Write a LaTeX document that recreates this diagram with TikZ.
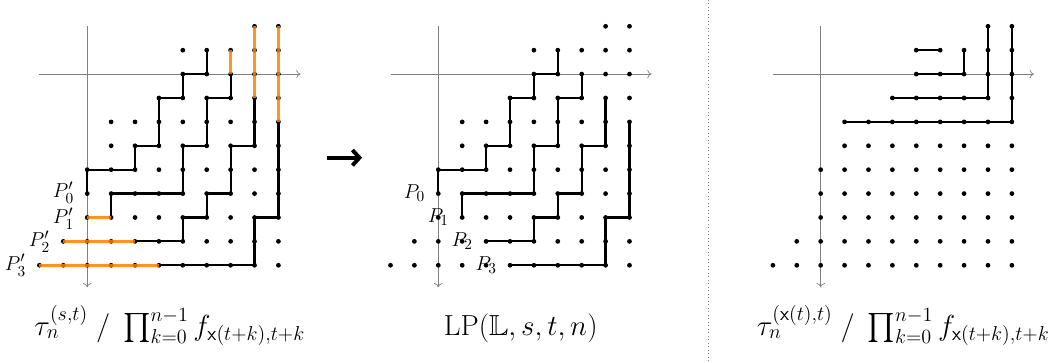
\documentclass[tikz,border=0pt]{standalone}
\usepackage{amsmath,amssymb}
\usepackage{xcolor}
\definecolor{hilite}{HTML}{FF8000}
\usepackage{tikz}
\usetikzlibrary{arrows.meta}

\newcommand{\latticeaxes}{%
  \draw[ax] (-2,0) -- (8.92,0);
  \draw[ax] (0,-2) -- (0,8.92);}
\newcommand{\latticedots}{%
  \foreach \j/\imin in {-2/7,-1/4,0/4,1/3,2/1,3/1,4/0,5/0,6/0,7/-1,8/-2}
    \foreach \i in {\imin,...,8}
      \fill[ldot] (\i,\j) circle (1.7pt);}
\newcommand{\lppaths}{%
  \draw[lp] (0,5) |- (2,4) |- (3,3) |- (4,1) |- (5,0) -- (5,-1);
  \draw[lp] (1,6) |- (4,5) |- (5,3) |- (6,1) -- (6,0);
  \draw[lp] (2,7) -- (4,7) |- (5,6) |- (6,5) |- (7,3) -- (7,1);
  \draw[lp] (3,8) -- (7,8) |- (8,6) -- (8,2);}

\begin{document}
\begin{tikzpicture}[x=0.6cm, y=-0.6cm,
  ax/.style={gray, line width=0.5pt, -{To[length=3pt, width=6pt]}},
  lp/.style={black, line width=1.6pt},
  ext/.style={hilite, line width=2.4pt, opacity=0.85},
  ldot/.style={black},
  lab/.style={font=\fontsize{15}{18}\selectfont, inner sep=0pt},
  captxt/.style={font=\huge, anchor=base},
  divider/.style={gray, dotted, line width=0.5pt},
  bigarr/.style={line width=2.8pt, -{Straight Barb[length=5pt, width=11pt]}}
]
  \useasboundingbox (-3.65,-3.1) rectangle (40.62,12.05);

  \begin{scope}
    \latticeaxes
    \lppaths
    \latticedots
    \draw[ext] (0,6) -- (1,6);
    \draw[ext] (-1,7) -- (2,7);
    \draw[ext] (-2,8) -- (3,8);
    \draw[ext] (6,0) -- (6,-1);
    \draw[ext] (7,1) -- (7,-2);
    \draw[ext] (8,2) -- (8,-2);
    \node[lab] (Q0) at (-1,4.97) {$P'_0$};
    \node[lab] (Q1) at (-1,6.05) {$P'_1$};
    \node[lab] (Q2) at (-2,7) {$P'_2$};
    \node[lab] (Q3) at (-3,8) {$P'_3$};
    \node[captxt] (capA) at (3.45,10.92)
      {$\tau_n^{(s,t)}\;/\;\prod_{k=0}^{n-1} f_{\mathsf{x}(t+k),t+k}$};
  \end{scope}

  \coordinate (stepL) at (10.02,3.5);
  \coordinate (stepR) at (11.5,3.5);
  \draw[bigarr] (stepL) -- (stepR);

  \begin{scope}[shift={(14.69,0)}]
    \latticeaxes
    \lppaths
    \latticedots
    \node[lab] (P0) at (-1,5) {$P_0$};
    \node[lab] (P1) at (0,6) {$P_1$};
    \node[lab] (P2) at (1,7) {$P_2$};
    \node[lab] (P3) at (2,8) {$P_3$};
    \node[captxt] (capB) at (3.45,10.92) {$\mathrm{LP}(\mathbb{L},s,t,n)$};
  \end{scope}

  \draw[divider] (26,-3.1) -- (26,12.05);

  \begin{scope}[shift={(30.69,0)}]
    \latticeaxes
    \draw[lp] (4,-1) -- (5,-1);
    \draw[lp] (4,0) -| (6,-1);
    \draw[lp] (3,1) -| (7,-2);
    \draw[lp] (1,2) -| (8,-2);
    \latticedots
    \node[captxt] (capC) at (3.45,10.92)
      {$\tau_n^{(\mathsf{x}(t),t)}\;/\;\prod_{k=0}^{n-1} f_{\mathsf{x}(t+k),t+k}$};
  \end{scope}
\end{tikzpicture}
\end{document}
